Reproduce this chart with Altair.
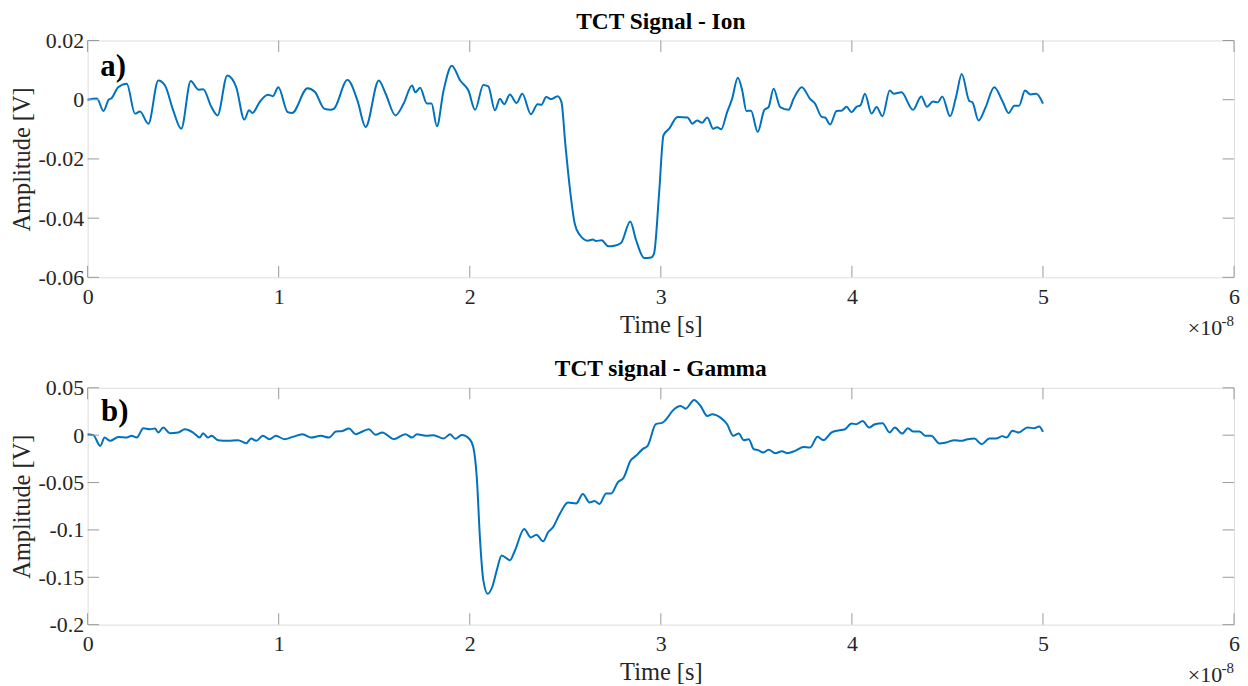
import altair as alt
import pandas as pd

# ---------------- data (time in units of 1e-8 s, amplitude in V) ----------------
ion_t = [0, 0.049, 0.083, 0.11, 0.125, 0.16, 0.205, 0.248, 0.274, 0.318, 0.37, 0.405,
         0.448, 0.49, 0.54, 0.58, 0.605, 0.648, 0.68, 0.731, 0.778, 0.82, 0.845, 0.863,
         0.9, 0.943, 0.97, 0.998, 1.047, 1.07, 1.151, 1.19, 1.238, 1.272, 1.29, 1.36,
         1.412, 1.455, 1.524, 1.56, 1.611, 1.654, 1.698, 1.715, 1.74, 1.776, 1.8, 1.828,
         1.863, 1.906, 1.95, 1.993, 2.028, 2.071, 2.097, 2.132, 2.158, 2.18, 2.21, 2.245,
         2.275, 2.32, 2.355, 2.375, 2.4, 2.427, 2.46, 2.48, 2.5, 2.523, 2.549, 2.575,
         2.618, 2.645, 2.66, 2.69, 2.726, 2.757, 2.792, 2.84, 2.87, 2.913, 2.95, 2.965,
         2.991, 3.014, 3.044, 3.087, 3.14, 3.165, 3.19, 3.216, 3.243, 3.274, 3.295, 3.316,
         3.347, 3.373, 3.403, 3.426, 3.448, 3.472, 3.507, 3.542, 3.564, 3.59, 3.625, 3.669,
         3.695, 3.738, 3.781, 3.807, 3.842, 3.86, 3.886, 3.92, 3.946, 3.972, 3.998, 4.024,
         4.045, 4.068, 4.103, 4.129, 4.16, 4.198, 4.219, 4.259, 4.32, 4.363, 4.393, 4.424,
         4.45, 4.473, 4.514, 4.545, 4.575, 4.615, 4.63, 4.663, 4.7, 4.745, 4.79, 4.82,
         4.85, 4.875, 4.906, 4.935, 4.965, 5.0]
ion_v = [0.0, 0.0004, -0.0038, 0.0, 0.0005, 0.0042, 0.0054, -0.0047, -0.004, -0.0081, 0.0065, 0.0048,
         -0.0036, -0.0098, 0.0063, 0.0034, 0.0035, -0.0025, -0.0053, 0.0082, 0.0042, -0.0067, -0.0036, -0.0045,
         -0.0008, 0.0017, 0.0012, 0.0042, -0.0042, -0.0045, 0.0039, 0.0026, -0.003, -0.0034, -0.003, 0.0067,
         -0.0002, -0.0092, 0.0065, 0.002, -0.0053, -0.0013, 0.0048, 0.0025, 0.004, -0.0013, -0.0013, -0.009,
         0.0031, 0.0115, 0.0065, 0.0031, -0.0034, 0.005, 0.0045, -0.0036, 0.0003, -0.0015, 0.0018, -0.0011,
         0.002, -0.0049, -0.0015, -0.0017, 0.0009, 0.0002, 0.0012, -0.0008, -0.0148, -0.0294, -0.0417, -0.0456,
         -0.0476, -0.0472, -0.0477, -0.0475, -0.0495, -0.0493, -0.0484, -0.0411, -0.0473, -0.0535, -0.0533, -0.0518,
         -0.0316, -0.012, -0.0098, -0.0058, -0.006, -0.0081, -0.007, -0.0078, -0.006, -0.0098, -0.0093, -0.01,
         -0.0042, 0.0003, 0.0074, 0.0031, -0.0038, -0.0037, -0.0109, -0.0034, -0.0025, 0.0037, -0.0025, -0.0034,
         0.0003, 0.0042, 0.0003, -0.0013, -0.0058, -0.006, -0.0084, -0.0038, -0.0037, -0.0024, -0.0042, -0.0024,
         -0.0019, 0.002, -0.0047, -0.0025, -0.0056, 0.0031, 0.002, 0.0025, -0.0034, 0.0011, -0.0024, -0.0006,
         -0.0009, 0.0011, -0.0056, 0.0009, 0.0087, -0.0005, -0.0008, -0.007, -0.0025, 0.0042, -0.0008, -0.0045,
         -0.002, -0.002, 0.0031, 0.0018, 0.002, -0.0013]

gamma_t = [0, 0.03, 0.066, 0.089, 0.118, 0.161, 0.205, 0.23, 0.257, 0.292, 0.326, 0.352,
           0.37, 0.396, 0.43, 0.474, 0.509, 0.552, 0.587, 0.604, 0.63, 0.648, 0.683, 0.735,
           0.787, 0.83, 0.856, 0.882, 0.917, 0.952, 0.986, 1.03, 1.073, 1.125, 1.169, 1.22,
           1.264, 1.299, 1.334, 1.368, 1.403, 1.438, 1.472, 1.507, 1.542, 1.603, 1.663, 1.698,
           1.724, 1.77, 1.811, 1.863, 1.898, 1.924, 1.958, 2.002, 2.019, 2.037, 2.054, 2.071,
           2.094, 2.118, 2.141, 2.167, 2.21, 2.236, 2.285, 2.32, 2.349, 2.384, 2.41, 2.436,
           2.471, 2.514, 2.557, 2.592, 2.627, 2.653, 2.679, 2.714, 2.74, 2.774, 2.806, 2.841,
           2.87, 2.905, 2.931, 2.974, 3.009, 3.035, 3.061, 3.104, 3.13, 3.174, 3.208, 3.243,
           3.269, 3.312, 3.347, 3.379, 3.408, 3.434, 3.46, 3.486, 3.512, 3.535, 3.564, 3.599,
           3.634, 3.66, 3.703, 3.747, 3.781, 3.82, 3.851, 3.894, 3.929, 3.964, 3.998, 4.024,
           4.056, 4.09, 4.12, 4.16, 4.198, 4.224, 4.264, 4.293, 4.32, 4.354, 4.385, 4.415,
           4.458, 4.493, 4.537, 4.571, 4.606, 4.641, 4.679, 4.719, 4.754, 4.788, 4.809, 4.84,
           4.872, 4.919, 4.954, 4.98, 5.0]
gamma_v = [0.001, 0.0, -0.0113, -0.0025, -0.006, -0.0018, -0.0025, -0.0007, -0.0025, 0.0074, 0.0063, 0.007,
           0.0028, 0.0081, 0.0021, 0.0028, 0.0063, 0.0028, -0.0025, 0.0021, -0.0025, -0.0007, -0.0053, -0.006,
           -0.0053, -0.0085, -0.0035, -0.006, -0.0007, -0.0042, -0.0007, -0.0042, -0.0018, 0.001, -0.0025, -0.0007,
           -0.0025, 0.0039, 0.0045, 0.007, 0.001, 0.0039, 0.0063, 0.0004, 0.0028, -0.0042, 0.001, -0.0025,
           0.001, -0.0005, 0.0, -0.0035, 0.001, -0.0038, 0.0002, -0.0048, -0.013, -0.045, -0.111, -0.153,
           -0.1674, -0.16, -0.143, -0.127, -0.132, -0.122, -0.099, -0.108, -0.105, -0.112, -0.1025, -0.097,
           -0.0832, -0.071, -0.072, -0.0621, -0.071, -0.0695, -0.0726, -0.0615, -0.0615, -0.05, -0.0446, -0.027,
           -0.0218, -0.0147, -0.0113, 0.0116, 0.0133, 0.0185, 0.0256, 0.0308, 0.028, 0.0372, 0.0308, 0.0203,
           0.0221, 0.0185, 0.0116, -0.0007, 0.0017, -0.0053, -0.0042, -0.0147, -0.016, -0.0183, -0.0155, -0.019,
           -0.017, -0.019, -0.0165, -0.0125, -0.013, -0.0016, -0.0052, 0.003, 0.005, 0.0063, 0.0123, 0.0116,
           0.015, 0.008, 0.0116, 0.0126, 0.0028, 0.008, 0.0017, 0.0074, 0.0039, 0.0039, -0.0007, -0.0007,
           -0.0088, -0.0077, -0.0053, -0.006, -0.0042, -0.0035, -0.0095, -0.0035, -0.0035, -0.001, -0.0025, 0.0046,
           0.0028, 0.008, 0.0074, 0.0091, 0.0035]

x_ticks = [0, 1, 2, 3, 4, 5, 6]
ion_y_ticks = [-0.06, -0.04, -0.02, 0, 0.02]
gamma_y_ticks = [-0.2, -0.15, -0.1, -0.05, 0, 0.05]

titles = ["TCT Signal - Ion", "TCT signal - Gamma"]
panel_labels = ["a)", "b)"]
label_pos_ion = (0.066, 0.011)
label_pos_gamma = (0.07, 0.0245)
x_title = "Time [s]"
y_title = "Amplitude [V]"
exp_base = "\u00d710"
exp_power = "-8"

# ---------------- styling ----------------
W, H = 1152, 238
FONT = "Liberation Serif"
LINE = "#0072BD"
FRAME = "#999999"
TXT = "#262626"
TICK = 11.5


def panel(ts, vs, yticks, ydomain, title, label, lpos):
    df = pd.DataFrame({"t": ts, "v": vs})
    xt = pd.DataFrame({"t": x_ticks})
    yt = pd.DataFrame({"v": yticks})
    lab = pd.DataFrame({"t": [lpos[0]], "v": [lpos[1]], "s": [label]})

    x_enc = alt.X("t:Q", scale=alt.Scale(domain=[0, 6], nice=False),
                  axis=alt.Axis(values=x_ticks, title=x_title, format="d",
                                ticks=False, domain=False, grid=False, labelFlush=False,
                                labelPadding=9, titlePadding=6,
                                labelFont=FONT, labelFontSize=22, labelColor=TXT,
                                titleFont=FONT, titleFontSize=24.5, titleColor=TXT,
                                titleFontWeight="normal"))
    y_enc = alt.Y("v:Q", scale=alt.Scale(domain=ydomain, nice=False, zero=False),
                  axis=alt.Axis(values=yticks, title=y_title,
                                labelExpr="replace(format(datum.value, '~g'), '\u2212', '-')",
                                ticks=False, domain=False, grid=False, labelFlush=False,
                                labelPadding=4, titlePadding=4,
                                labelFont=FONT, labelFontSize=22, labelColor=TXT,
                                titleFont=FONT, titleFontSize=24.5, titleColor=TXT,
                                titleFontWeight="normal"))

    line = alt.Chart(df).mark_line(color=LINE, strokeWidth=2, interpolate="monotone").encode(
        x=x_enc, y=y_enc)
    tb = alt.Chart(xt).mark_rule(color=FRAME, strokeWidth=1).encode(
        x=x_enc, y=alt.value(H), y2=alt.value(H - TICK))
    tt = alt.Chart(xt).mark_rule(color=FRAME, strokeWidth=1).encode(
        x=x_enc, y=alt.value(0), y2=alt.value(TICK))
    tl = alt.Chart(yt).mark_rule(color=FRAME, strokeWidth=1).encode(
        y=y_enc, x=alt.value(0), x2=alt.value(TICK))
    tr = alt.Chart(yt).mark_rule(color=FRAME, strokeWidth=1).encode(
        y=y_enc, x=alt.value(W), x2=alt.value(W - TICK))
    txt = alt.Chart(lab).mark_text(font=FONT, fontSize=31, fontWeight="bold",
                                   align="left", baseline="middle", color="black").encode(
        x=x_enc, y=y_enc, text="s:N")
    e1 = alt.Chart(lab).mark_text(font=FONT, fontSize=22, align="right",
                                  baseline="alphabetic", color=TXT).encode(
        x=alt.value(W - 12), y=alt.value(H + 58), text=alt.value(exp_base))
    e2 = alt.Chart(lab).mark_text(font=FONT, fontSize=15, align="right",
                                  baseline="alphabetic", color=TXT).encode(
        x=alt.value(W), y=alt.value(H + 49), text=alt.value(exp_power))
    return alt.layer(line, tb, tt, tl, tr, txt, e1, e2).properties(
        width=W, height=H,
        title=alt.TitleParams(title, font=FONT, fontSize=23.5, fontWeight="bold",
                              color="black", offset=-4, frame="group"))


a = panel(ion_t, ion_v, ion_y_ticks, [-0.06, 0.02], titles[0], panel_labels[0], label_pos_ion)
b = panel(gamma_t, gamma_v, gamma_y_ticks, [-0.2, 0.05], titles[1], panel_labels[1], label_pos_gamma)

chart = alt.vconcat(a, b, spacing=17).properties(
    padding={"left": 0, "top": 0, "right": 0, "bottom": 0}
).configure_view(stroke=FRAME, strokeWidth=1).configure(background="white")

chart.save("out.html", embed_options={"renderer": "svg", "actions": False})
